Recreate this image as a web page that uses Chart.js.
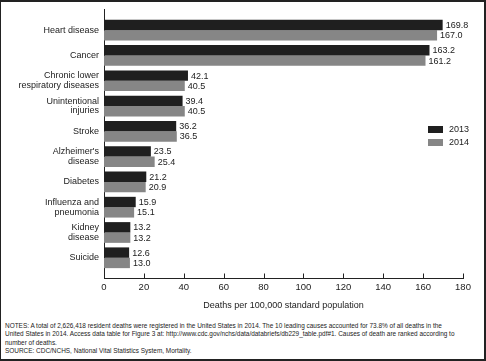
<!DOCTYPE html>
<html>
<head>
<title>Leading causes of death</title>
<script src="https://cdn.jsdelivr.net/npm/chart.js"></script>
<style>
  body { margin: 0; background: #fff; }
  #wrap { position: relative; width: 486px; height: 361px; background: #fff; }
  #frame { position: absolute; left: 0; top: 0; width: 486px; height: 361px; box-sizing: border-box;
           border: 2px solid #222; border-left-width: 1px; pointer-events: none; }
  #chart { position: absolute; left: 0; top: 0; }
  #notes { position: absolute; left: 5px; top: 322px; font-family: "Liberation Sans", Arial, sans-serif;
           font-size: 6.45px; line-height: 8.3px; color: #222; white-space: nowrap; }
</style>
</head>
<body>
<div id="wrap">
  <canvas id="chart" width="486" height="318"></canvas>
  <div id="notes">
    NOTES: A total of 2,626,418 resident deaths were registered in the United States in 2014. The 10 leading causes accounted for 73.8% of all deaths in the<br>
    United States in 2014. Access data table for Figure 3 at: http://www.cdc.gov/nchs/data/databriefs/db229_table.pdf#1. Causes of death are ranked according to<br>
    number of deaths.<br>
    SOURCE: CDC/NCHS, National Vital Statistics System, Mortality.
  </div>
  <div id="frame"></div>
</div>

<script>
    const causes = [
        ['Heart disease'],
        ['Cancer'],
        ['Chronic lower', 'respiratory diseases'],
        ['Unintentional', 'injuries'],
        ['Stroke'],
        ["Alzheimer's", 'disease'],
        ['Diabetes'],
        ['Influenza and', 'pneumonia'],
        ['Kidney', 'disease'],
        ['Suicide']
    ];
    const rates2013 = [169.8, 163.2, 42.1, 39.4, 36.2, 23.5, 21.2, 15.9, 13.2, 12.6];
    const rates2014 = [167.0, 161.2, 40.5, 40.5, 36.5, 25.4, 20.9, 15.1, 13.2, 13.0];
    const xTicks = [0, 20, 40, 60, 80, 100, 120, 140, 160, 180];

    const FONT = 'Liberation Sans, Arial, sans-serif';
    const colors = { '2013': '#1f1f1f', '2014': '#868686' };

    // value labels at the end of each bar
    const barLabels = {
        id: 'barLabels',
        afterDatasetsDraw(chart) {
            const ctx = chart.ctx;
            ctx.save();
            ctx.font = '9px ' + FONT;
            ctx.fillStyle = '#222';
            ctx.textBaseline = 'middle';
            ctx.textAlign = 'left';
            chart.data.datasets.forEach((ds, i) => {
                chart.getDatasetMeta(i).data.forEach((bar, j) => {
                    ctx.fillText(ds.data[j].x.toFixed(1), bar.x + 3, bar.y + 0.5);
                });
            });
            ctx.restore();
        }
    };

    // x axis line with short tick marks pointing up
    const innerTicks = {
        id: 'innerTicks',
        afterDraw(chart) {
            const ctx = chart.ctx;
            const xs = chart.scales.x;
            const y = Math.round(chart.chartArea.bottom) + 0.5;
            ctx.save();
            ctx.strokeStyle = '#222';
            ctx.lineWidth = 1;
            ctx.beginPath();
            ctx.moveTo(xs.getPixelForValue(0), y);
            ctx.lineTo(Math.round(xs.getPixelForValue(180)) + 1, y);
            xTicks.forEach(v => {
                const px = Math.round(xs.getPixelForValue(v)) + 0.5;
                ctx.moveTo(px, y);
                ctx.lineTo(px, y - 5);
            });
            ctx.stroke();
            ctx.restore();
        }
    };

    // small legend at the right
    const sideLegend = {
        id: 'sideLegend',
        afterDraw(chart) {
            const ctx = chart.ctx;
            ctx.save();
            ctx.font = '9px ' + FONT;
            ctx.textBaseline = 'middle';
            chart.data.datasets.forEach((ds, i) => {
                const y = 126 + i * 13;
                ctx.fillStyle = ds.backgroundColor;
                ctx.fillRect(428, y, 15, 7);
                ctx.fillStyle = '#222';
                ctx.fillText(ds.label, 449, y + 3.5);
            });
            ctx.restore();
        }
    };

    const ctx = document.getElementById('chart').getContext('2d');
    new Chart(ctx, {
        type: 'bar',
        data: {
            datasets: [
                {
                    label: '2013',
                    data: rates2013.map((v, i) => ({ x: v, y: i })),
                    backgroundColor: colors['2013'],
                    categoryPercentage: 0.82,
                    barPercentage: 1.0
                },
                {
                    label: '2014',
                    data: rates2014.map((v, i) => ({ x: v, y: i })),
                    backgroundColor: colors['2014'],
                    categoryPercentage: 0.82,
                    barPercentage: 1.0
                }
            ]
        },
        options: {
            indexAxis: 'y',
            responsive: false,
            animation: false,
            layout: { padding: { top: 7, right: 23, left: 0, bottom: 0 } },
            plugins: {
                legend: { display: false },
                tooltip: { enabled: false }
            },
            scales: {
                x: {
                    type: 'linear',
                    min: 0,
                    max: 180,
                    afterBuildTicks: scale => { scale.ticks = xTicks.map(v => ({ value: v })); },
                    afterFit: scale => { scale.height = 40; },
                    border: { display: true, color: '#222', width: 1 },
                    grid: { display: false, drawTicks: false },
                    ticks: { font: { family: FONT, size: 9.5 }, color: '#222', padding: 4 },
                    title: {
                        display: true,
                        text: 'Deaths per 100,000 standard population',
                        font: { family: FONT, size: 9 },
                        color: '#222',
                        padding: { top: 0, bottom: 7 }
                    }
                },
                y: {
                    type: 'linear',
                    reverse: true,
                    offset: false,
                    min: -0.8,
                    max: 9.8,
                    afterBuildTicks: scale => { scale.ticks = causes.map((c, i) => ({ value: i })); },
                    afterFit: scale => { scale.width = 104; },
                    border: { display: true, color: '#222', width: 1 },
                    grid: { display: false, drawTicks: false },
                    ticks: {
                        font: { family: FONT, size: 9, lineHeight: 1.1 },
                        color: '#222',
                        padding: 5,
                        callback: v => causes[v]
                    }
                }
            }
        },
        plugins: [barLabels, innerTicks, sideLegend]
    });
</script>
</body>
</html>
